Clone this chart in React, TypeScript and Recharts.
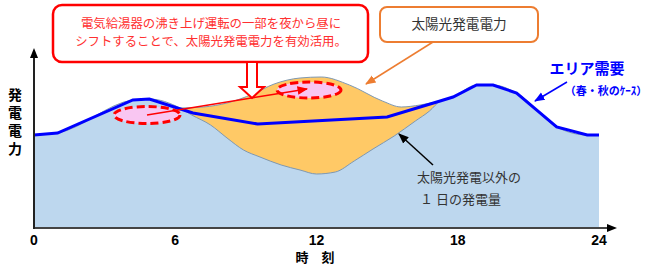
import React from 'react';
import { ComposedChart, Area, Line, XAxis, YAxis } from 'recharts';

// area demand (spring / autumn case), hour -> power (arbitrary units)
const demandHours = [0, 1, 4.2, 4.9, 6.75, 9.5, 15.0, 17.25, 17.8, 18.8, 19.5, 20.5, 22.2, 23.5, 24];
const demandValues = [93, 95, 128, 129, 115, 104, 111, 127, 131, 143, 143, 135, 101, 93, 93];

// generation other than solar (blue area)
const baseHours = [0, 1, 4.2, 4.9, 6.2, 6.7, 7.5, 8.2, 8.9, 9.6, 10.5, 11.3, 12.0, 12.8, 13.6, 14.4, 15.3, 16.2, 16.8, 17.25, 17.8, 18.8, 19.5, 20.5, 22.2, 23.5, 24];
const baseValues = [93, 95, 128, 129, 120, 113, 103, 90, 78, 71, 63, 58, 54, 56, 67, 79, 92, 107, 117, 127, 131, 143, 143, 135, 101, 93, 93];

// top of solar generation (orange area)
const solarHours = [6.2, 7.2, 8.2, 9.3, 10.2, 11.3, 12.2, 13.4, 14.8, 15.6, 16.4, 17.25];
const solarValues = [120, 121, 125, 134, 144, 150, 151, 143, 127, 121, 123, 127];

const hourTicks = [0, 6, 12, 18, 24];

const JP = '"Noto Sans CJK JP", sans-serif';

function buildRows() {
  const all = Array.from(new Set([...demandHours, ...baseHours, ...solarHours])).sort((a, b) => a - b);
  return all.map((h) => {
    const di = demandHours.indexOf(h);
    const bi = baseHours.indexOf(h);
    const si = solarHours.indexOf(h);
    return {
      hour: h,
      demand: di >= 0 ? demandValues[di] : null,
      base: bi >= 0 ? baseValues[bi] : null,
      solar: si >= 0 ? solarValues[si] : null,
    };
  });
}

const rows = buildRows();

function Overlay() {
  return (
    <svg width={652} height={267} style={{ position: 'absolute', left: 0, top: 0, pointerEvents: 'none' }}>
      <defs>
        <marker id="mRed" viewBox="0 0 10 10" refX="9" refY="5" markerWidth="7" markerHeight="7" orient="auto">
          <path d="M0,1 L10,5 L0,9 z" fill="#FF0000" />
        </marker>
        <marker id="mOrange" viewBox="0 0 10 10" refX="9" refY="5" markerWidth="7" markerHeight="7" orient="auto">
          <path d="M0,1 L10,5 L0,9 z" fill="#ED7D31" />
        </marker>
        <marker id="mBlue" viewBox="0 0 10 10" refX="9" refY="5" markerWidth="7" markerHeight="7" orient="auto">
          <path d="M0,1 L10,5 L0,9 z" fill="#0000FF" />
        </marker>
        <marker id="mBlack" viewBox="0 0 10 10" refX="9" refY="5" markerWidth="7" markerHeight="7" orient="auto">
          <path d="M0,1 L10,5 L0,9 z" fill="#000" />
        </marker>
      </defs>

      {/* axes with arrow heads */}
      <line x1={34} y1={229} x2={34} y2={56} stroke="#222" strokeWidth={2} />
      <polygon points="34,48 30,58 38,58" fill="#000" />
      <line x1={598} y1={228} x2={608} y2={228} stroke="#444" strokeWidth={2} />
      <polygon points="617,228 607,224 607,232" fill="#000" />

      {/* axis titles */}
      <text
        x={15}
        y={88}
        fontSize={14}
        fontWeight="bold"
        fontFamily={JP}
        fill="#000"
        style={{ writingMode: 'vertical-rl', letterSpacing: 4 }}
      >
        発電電力
      </text>
      <text x={315} y={262} textAnchor="middle" fontSize={13} fontWeight="bold" fontFamily={JP} fill="#000">
        時　刻
      </text>

      {/* ellipses + shift arrow */}
      <ellipse cx={147} cy={115} rx={33} ry={8.5} fill="#F9C6F2" stroke="#FF0000" strokeWidth={3} strokeDasharray="8 4" />
      <ellipse cx={309} cy={90} rx={32} ry={8} fill="#F9C6F2" stroke="#FF0000" strokeWidth={3} strokeDasharray="8 4" />
      <line x1={147} y1={115} x2={307} y2={89} stroke="#FF0000" strokeWidth={1.5} markerEnd="url(#mRed)" />

      {/* red callout */}
      <rect x={53} y={5} width={315} height={57} rx={9} fill="#fff" stroke="#FF0000" strokeWidth={2.5} />
      <text x={211} y={28} textAnchor="middle" fontSize={12.4} fontFamily={JP} fill="#FF3030">
        電気給湯器の沸き上げ運転の一部を夜から昼に
      </text>
      <text x={211} y={46} textAnchor="middle" fontSize={12.4} fontFamily={JP} fill="#FF3030">
        シフトすることで、太陽光発電電力を有効活用。
      </text>
      <polygon points="247,62 257,62 257,87 264,87 252,98 240,87 247,87" fill="#fff" stroke="#FF0000" strokeWidth={2} />

      {/* solar callout */}
      <rect x={380} y={7} width={158} height={35} rx={7} fill="#fff" stroke="#ED7D31" strokeWidth={2} />
      <text x={459} y={29} textAnchor="middle" fontSize={13.6} fontFamily={JP} fill="#333">
        太陽光発電電力
      </text>
      <line x1={433} y1={42} x2={366} y2={84} stroke="#ED7D31" strokeWidth={1.5} markerEnd="url(#mOrange)" />

      {/* demand label */}
      <text x={587} y={74} textAnchor="middle" fontSize={15} fontWeight="bold" fontFamily={JP} fill="#0000FF">
        エリア需要
      </text>
      <text x={606} y={95} textAnchor="middle" fontSize={11} fontWeight="bold" fontFamily={JP} fill="#0000FF">
        （春・秋のｹｰｽ）
      </text>
      <line x1={567} y1={82} x2={535} y2={101} stroke="#0000FF" strokeWidth={1.5} markerEnd="url(#mBlue)" />

      {/* non-solar label */}
      <line x1={433} y1={165} x2={399} y2={134} stroke="#000" strokeWidth={1.5} markerEnd="url(#mBlack)" />
      <text x={417} y={182} fontSize={13} fontFamily={JP} fill="#333">
        太陽光発電以外の
      </text>
      <text x={420} y={204} fontSize={13} fontFamily={JP} fill="#333">
        １ 日の発電量
      </text>
    </svg>
  );
}

export default function App() {
  return (
    <div style={{ position: 'absolute', left: 0, top: 0, width: 652, height: 267, background: '#fff' }}>
      <ComposedChart width={652} height={267} data={rows} margin={{ top: 48, right: 53, bottom: 9, left: 34 }}>
        <XAxis
          dataKey="hour"
          type="number"
          domain={[0, 24]}
          ticks={hourTicks}
          height={30}
          tickLine={false}
          tickSize={0}
          tickMargin={7}
          axisLine={{ stroke: '#444', strokeWidth: 2 }}
          tick={{ fontSize: 14, fontWeight: 'bold', fill: '#000', fontFamily: '"Liberation Sans", Arial, sans-serif' }}
        />
        <YAxis hide domain={[0, 180]} />
        <Area
          dataKey="solar"
          type="monotone"
          connectNulls
          fill="#FFC966"
          fillOpacity={1}
          stroke="#7E98B2"
          strokeWidth={1}
          isAnimationActive={false}
        />
        <Area
          dataKey="base"
          type="monotone"
          connectNulls
          fill="#BDD7EE"
          fillOpacity={1}
          stroke="#7E98B2"
          strokeWidth={1}
          isAnimationActive={false}
        />
        <Line
          dataKey="demand"
          type="linear"
          connectNulls
          stroke="#0000FF"
          strokeWidth={3}
          dot={false}
          isAnimationActive={false}
        />
      </ComposedChart>
      <Overlay />
    </div>
  );
}
